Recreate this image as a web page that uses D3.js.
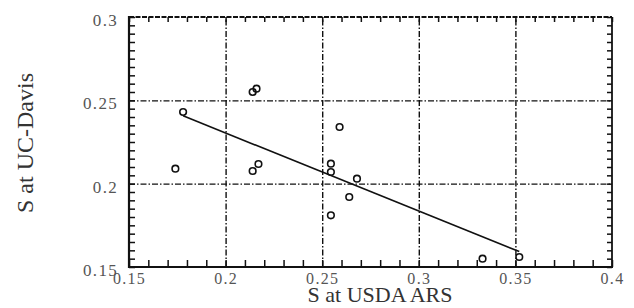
<!DOCTYPE html>
<html>
<head>
<meta charset="utf-8">
<script src="https://cdn.jsdelivr.net/npm/d3@7"></script>
<style>
  body { margin: 0; background: #fff; }
  text { font-family: "Liberation Serif", "DejaVu Serif", serif; }
</style>
</head>
<body>
<script>
    //Data
        const usdaArs = [0.174, 0.178, 0.214, 0.216, 0.214, 0.217, 0.259, 0.2545, 0.2545, 0.268, 0.264, 0.2545, 0.333, 0.352];
        const ucDavis = [0.209, 0.243, 0.255, 0.257, 0.2076, 0.2118, 0.234, 0.212, 0.207, 0.203, 0.192, 0.181, 0.155, 0.156];

        //fitted line, drawn between these x values
        const fitX = [0.178, 0.352];
        const fitSlope = -0.468;
        const fitIntercept = 0.324;

        const xTicks = [0.15, 0.2, 0.25, 0.3, 0.35, 0.4];
        const yTicks = [0.15, 0.2, 0.25, 0.3];
        const xMinor = d3.range(15, 41).map(d => d / 100);
        const yMinor = d3.range(30, 61).map(d => d / 200);


    //Set up dimensions
        const width = 634;
        const height = 308;
        const plotLeft = 129, plotRight = 612, plotTop = 17, plotBottom = 267;


    //Set up scales
        const xScale = d3.scaleLinear()
                        .domain([0.15, 0.4])
                        .range([plotLeft, plotRight]);

        const yScale = d3.scaleLinear()
                        .domain([0.15, 0.3])
                        .range([plotBottom, plotTop]);


    //Make the SVG
        const svg = d3.select("body")
                    .append("svg")
                    .attr("width", width)
                    .attr("height", height);


    //Grid lines
        const gridX = svg.append("g")
            .attr("transform", "translate(0," + plotBottom + ")")
            .call(d3.axisBottom(xScale).tickValues(xTicks.slice(1, -1)).tickSize(-(plotBottom - plotTop)).tickFormat(""));

        const gridY = svg.append("g")
            .attr("transform", "translate(" + plotLeft + ",0)")
            .call(d3.axisLeft(yScale).tickValues(yTicks.slice(1, -1)).tickSize(-(plotRight - plotLeft)).tickFormat(""));

        [gridX, gridY].forEach(g => {
            g.select(".domain").remove();
            g.selectAll("line")
                .attr("stroke", "#111")
                .attr("stroke-width", 1.4)
                .attr("stroke-dasharray", "6,2,1.5,2");
        });


    //Minor ticks on all four sides, pointing inward
        const tickGroups = [
            svg.append("g").attr("transform", "translate(0," + plotBottom + ")")
                .call(d3.axisBottom(xScale).tickValues(xMinor).tickSize(-7).tickFormat("")),
            svg.append("g").attr("transform", "translate(0," + plotTop + ")")
                .call(d3.axisTop(xScale).tickValues(xMinor).tickSize(-5).tickFormat("")),
            svg.append("g").attr("transform", "translate(" + plotLeft + ",0)")
                .call(d3.axisLeft(yScale).tickValues(yMinor).tickSize(-6).tickFormat("")),
            svg.append("g").attr("transform", "translate(" + plotRight + ",0)")
                .call(d3.axisRight(yScale).tickValues(yMinor).tickSize(-5).tickFormat(""))
        ];

        tickGroups.forEach(g => {
            g.select(".domain").remove();
            g.selectAll("line").attr("stroke", "#111").attr("stroke-width", 1.5);
        });


    //Frame
        svg.append("line")
            .attr("x1", plotLeft).attr("x2", plotRight).attr("y1", plotTop).attr("y2", plotTop)
            .attr("stroke", "#111").attr("stroke-width", 1.8).attr("stroke-dasharray", "5,1.5");
        svg.append("line")
            .attr("x1", plotRight).attr("x2", plotRight).attr("y1", plotTop).attr("y2", plotBottom)
            .attr("stroke", "#111").attr("stroke-width", 1.8);
        svg.append("line")
            .attr("x1", plotLeft).attr("x2", plotLeft).attr("y1", plotTop - 1).attr("y2", plotBottom + 1)
            .attr("stroke", "#111").attr("stroke-width", 2.2);
        svg.append("line")
            .attr("x1", plotLeft).attr("x2", plotRight + 1).attr("y1", plotBottom).attr("y2", plotBottom)
            .attr("stroke", "#111").attr("stroke-width", 2.2);


    //Tick labels
        const xLabels = svg.append("g")
            .attr("transform", "translate(0," + plotBottom + ")")
            .call(d3.axisBottom(xScale).tickValues(xTicks).tickSize(0).tickPadding(6).tickFormat(d3.format("")));

        const yLabels = svg.append("g")
            .attr("transform", "translate(" + plotLeft + ",0)")
            .call(d3.axisLeft(yScale).tickValues(yTicks).tickSize(0).tickPadding(11).tickFormat(d3.format("")));

        [xLabels, yLabels].forEach(g => {
            g.select(".domain").remove();
            g.selectAll("text")
                .attr("fill", "#555")
                .style("font-family", "Liberation Serif")
                .style("font-size", "17px")
                .style("letter-spacing", "1.3px");
        });
        xLabels.selectAll("text").style("font-size", "16px");
        yLabels.selectAll("text").attr("dy", "0.5em");


    //Fitted line
        svg.append("line")
            .attr("x1", xScale(fitX[0]))
            .attr("y1", yScale(fitIntercept + fitSlope * fitX[0]))
            .attr("x2", xScale(fitX[1]))
            .attr("y2", yScale(fitIntercept + fitSlope * fitX[1]))
            .attr("stroke", "#111")
            .attr("stroke-width", 1.6);


    //Points
        svg.selectAll("circle")
            .data(usdaArs)
            .enter()
            .append("circle")
            .attr("cx", d => xScale(d))
            .attr("cy", (d, i) => yScale(ucDavis[i]))
            .attr("r", 3.3)
            .attr("fill", "none")
            .attr("stroke", "#111")
            .attr("stroke-width", 1.6);


    //Axis titles
        svg.append("text")
            .attr("x", 380)
            .attr("y", 302)
            .attr("text-anchor", "middle")
            .attr("fill", "#333")
            .style("font-size", "22px")
            .text("S at USDA ARS");

        svg.append("text")
            .attr("transform", "translate(33,143) rotate(-90)")
            .attr("text-anchor", "middle")
            .attr("fill", "#333")
            .style("font-size", "24px")
            .text("S at UC-Davis");
</script>
</body>
</html>
